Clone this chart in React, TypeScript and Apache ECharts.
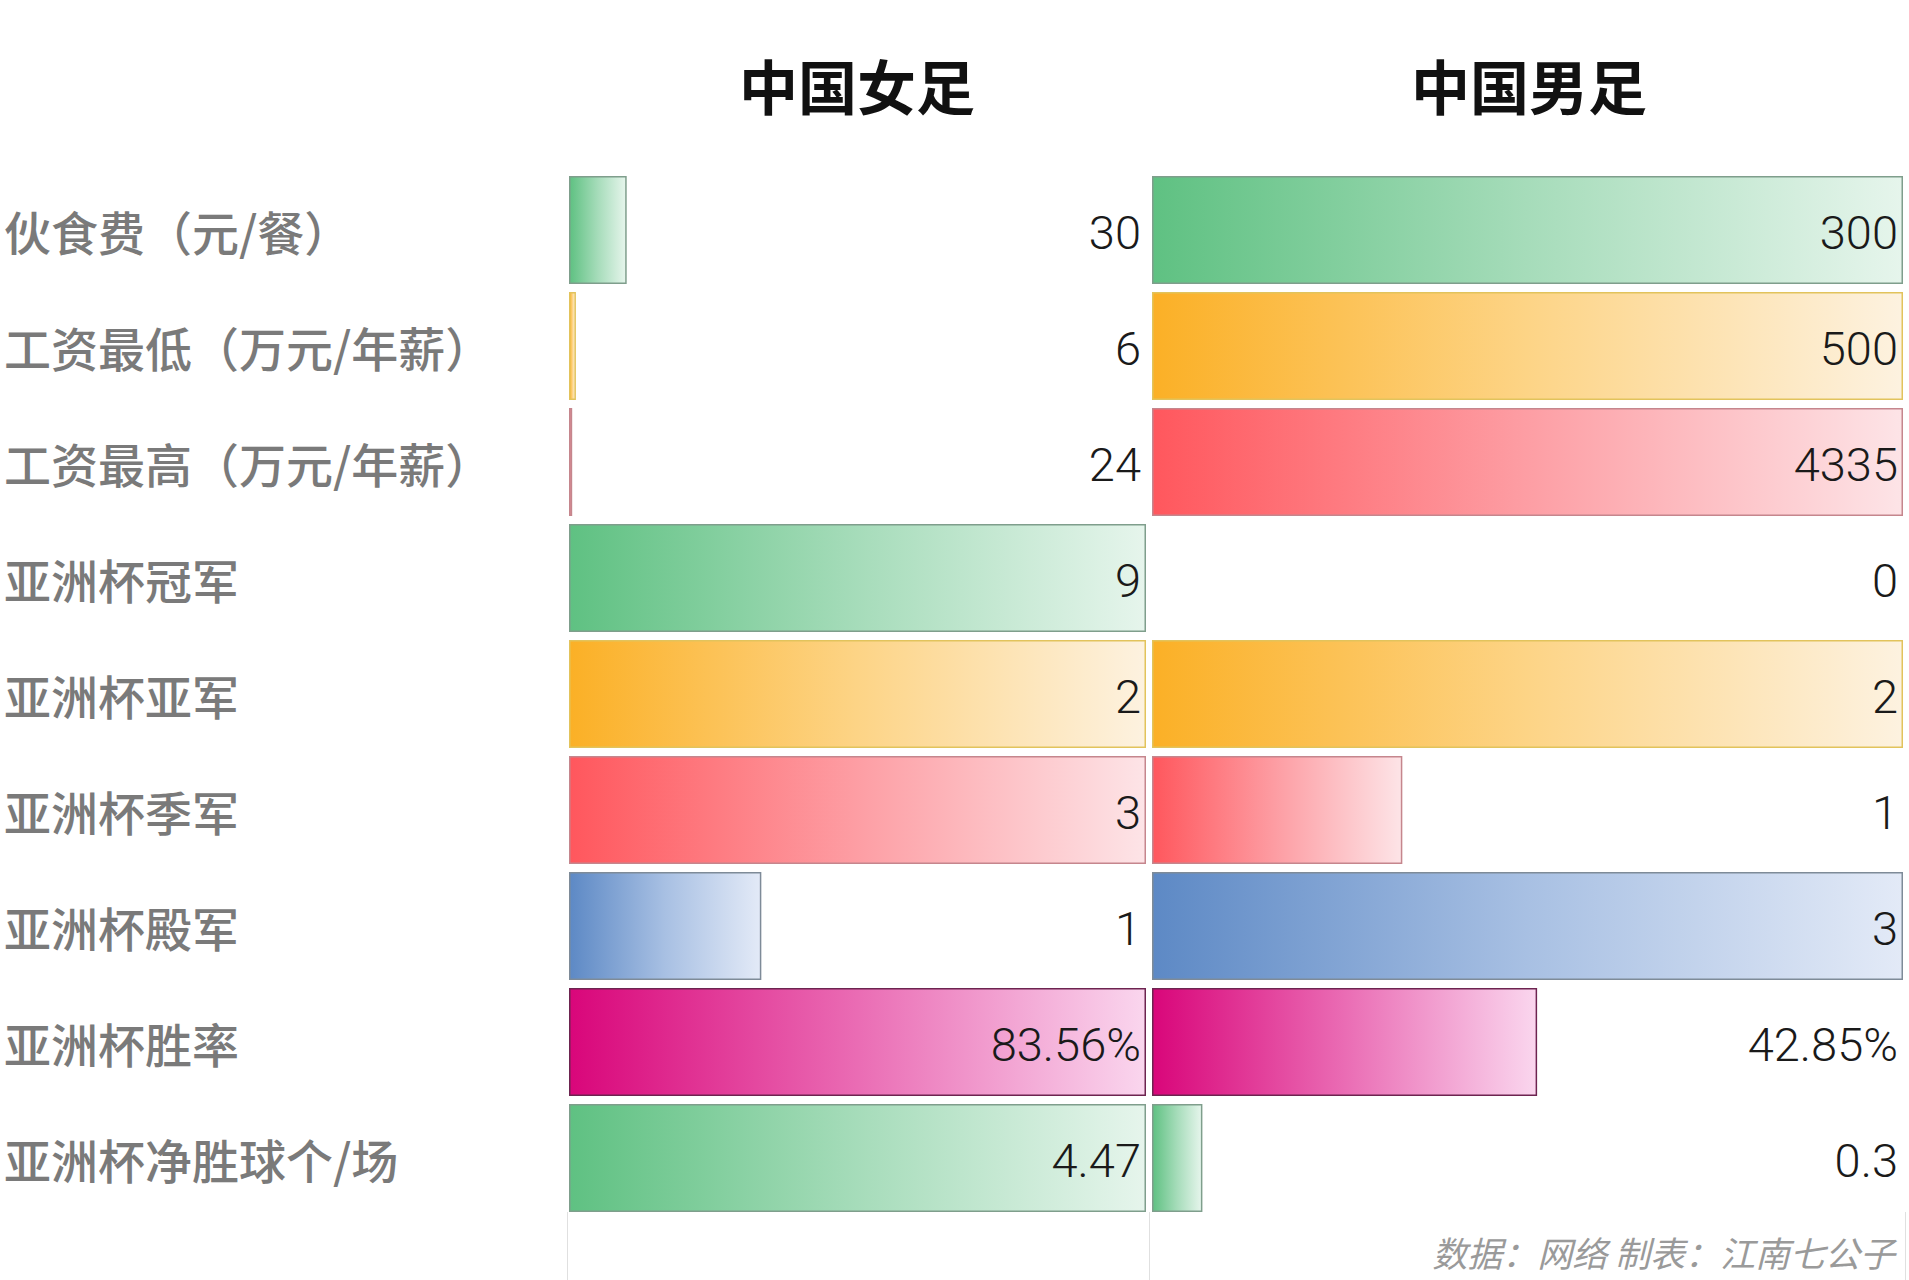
import React, { useEffect, useRef } from "react";
import * as echarts from "echarts";

const categories = [
  "伙食费（元/餐）",
  "工资最低（万元/年薪）",
  "工资最高（万元/年薪）",
  "亚洲杯冠军",
  "亚洲杯亚军",
  "亚洲杯季军",
  "亚洲杯殿军",
  "亚洲杯胜率",
  "亚洲杯净胜球个/场",
];
const womenValues = [30, 6, 24, 9, 2, 3, 1, 83.56, 4.47];
const menValues = [300, 500, 4335, 0, 2, 1, 3, 42.85, 0.3];
const valueUnits = ["", "", "", "", "", "", "", "%", ""];
const panelTitles = ["中国女足", "中国男足"];
const footnote = "数据：网络 制表：江南七公子";

// per-row colour theme: [start, middle, end, border]
const palette: Record<string, string[]> = {
  green: ["#5fc182", "#a6dcba", "#e6f5ec", "#7f9e8c"],
  orange: ["#fbb026", "#fdd486", "#fdf2e0", "#e2c35c"],
  red: ["#ff575d", "#fd9ea4", "#fde4e7", "#c5868d"],
  blue: ["#5d89c5", "#a8c0e3", "#e3eaf7", "#7e8b98"],
  magenta: ["#d9067a", "#ea6cb4", "#fad6ee", "#6d2450"],
};
const rowThemes = ["green", "orange", "red", "green", "orange", "red", "blue", "magenta", "green"];

const GRID_TOP = 172;
const GRID_HEIGHT = 1044;

function App() {
  const ref = useRef<HTMLDivElement>(null);

  useEffect(() => {
    if (!ref.current) return;
    const chart = echarts.init(ref.current, undefined, { renderer: "svg" });

    const rowMax = categories.map((_, i) => Math.max(womenValues[i], menValues[i]));

    const barItem = (v: number, i: number) => {
      const c = palette[rowThemes[i]];
      return {
        value: rowMax[i] > 0 ? v / rowMax[i] : 0,
        itemStyle: {
          color: new echarts.graphic.LinearGradient(0, 0, 1, 0, [
            { offset: 0, color: c[0] },
            { offset: 0.5, color: c[1] },
            { offset: 1, color: c[2] },
          ]),
          borderColor: c[3],
          borderWidth: v > 0 ? 1.5 : 0,
        },
      };
    };

    const labelSeries = (vals: number[], idx: number) => ({
      type: "bar",
      xAxisIndex: idx,
      yAxisIndex: idx,
      barGap: "-100%",
      barCategoryGap: "7%",
      silent: true,
      z: 5,
      itemStyle: { color: "rgba(0,0,0,0)" },
      data: vals.map(() => 1),
      label: {
        show: true,
        position: "insideRight",
        distance: 5,
        offset: [0, 2],
        formatter: (p: any) => `${vals[p.dataIndex]}${valueUnits[p.dataIndex]}`,
        fontFamily: "Roboto, 'Liberation Sans', sans-serif",
        fontSize: 47,
        fontWeight: 300,
        color: "#1a1a1a",
      },
    });

    const dataSeries = (vals: number[], idx: number) => ({
      type: "bar",
      xAxisIndex: idx,
      yAxisIndex: idx,
      barCategoryGap: "7%",
      barGap: "-100%",
      z: 2,
      data: vals.map((v, i) => barItem(v, i)),
    });

    const xAxisBase = (idx: number) => ({
      type: "value",
      gridIndex: idx,
      min: 0,
      max: 1,
      interval: 1,
      axisLabel: { show: false },
      axisLine: { show: false },
      axisTick: { show: false },
      splitLine: { show: false },
    });

    const yAxisBase = (idx: number) => ({
      type: "category",
      gridIndex: idx,
      inverse: true,
      data: categories,
      axisLine: { show: false },
      axisTick: { show: false },
      axisLabel:
        idx === 0
          ? {
              show: true,
              align: "left",
              margin: 565,
              fontFamily: "'Noto Sans CJK SC', sans-serif",
              fontSize: 47,
              fontWeight: 500,
              color: "#7a7a7a",
            }
          : { show: false },
    });

    const frameLine = (x: number) => ({
      type: "line",
      z: 0,
      shape: { x1: x, y1: 1212, x2: x, y2: 1280 },
      style: { stroke: "#e0e0e0", lineWidth: 1 },
    });

    const titleText = (x: number, text: string) => ({
      type: "text",
      x,
      y: 84,
      style: {
        text,
        align: "center",
        verticalAlign: "middle",
        fontFamily: "'Noto Sans CJK SC', sans-serif",
        fontSize: 59,
        fontWeight: "bold",
        fill: "#111111",
      },
    });

    chart.setOption({
      animation: false,
      backgroundColor: "#ffffff",
      grid: [
        { left: 569, width: 577, top: GRID_TOP, height: GRID_HEIGHT },
        { left: 1152, width: 751, top: GRID_TOP, height: GRID_HEIGHT },
      ],
      xAxis: [xAxisBase(0), xAxisBase(1)],
      yAxis: [yAxisBase(0), yAxisBase(1)],
      series: [
        dataSeries(womenValues, 0),
        labelSeries(womenValues, 0),
        dataSeries(menValues, 1),
        labelSeries(menValues, 1),
      ],
      graphic: [
        frameLine(567.5),
        frameLine(1149.5),
        frameLine(1905.5),
        titleText(857, panelTitles[0]),
        titleText(1529, panelTitles[1]),
        {
          type: "text",
          x: 1895,
          y: 1251,
          style: {
            text: footnote,
            align: "right",
            verticalAlign: "middle",
            fontFamily: "'Noto Sans CJK SC', sans-serif",
            fontSize: 35,
            fontStyle: "italic",
            fill: "#9a9a9a",
          },
        },
      ],
    });

    return () => chart.dispose();
  }, []);

  return (
    <div
      ref={ref}
      style={{ position: "fixed", left: 0, top: 0, width: 1909, height: 1280, background: "#fff" }}
    />
  );
}

export default App;
